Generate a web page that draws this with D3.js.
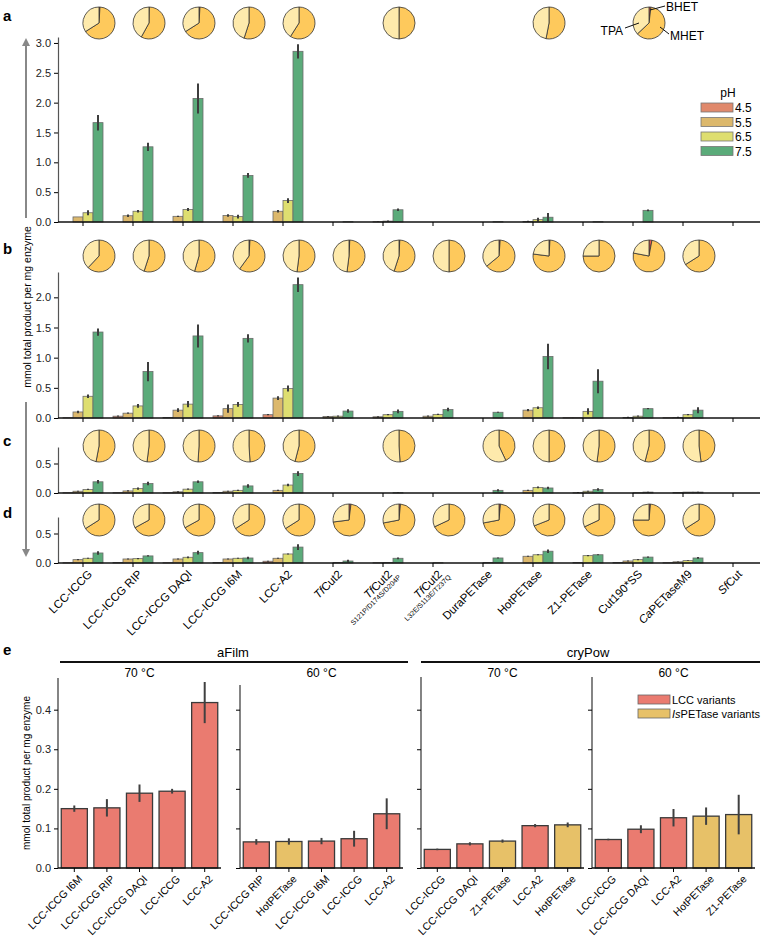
<!DOCTYPE html>
<html>
<head>
<meta charset="utf-8">
<script src="https://cdn.jsdelivr.net/npm/d3@7"></script>
<style>
  body { margin: 0; background: #fff; }
  svg { font-family: "Liberation Sans", Arial, sans-serif; }
</style>
</head>
<body>
<svg id="chart"></svg>
<script>
// categories (panels a-d)
const cats = ["LCC-ICCG","LCC-ICCG RIP","LCC-ICCG DAQI","LCC-ICCG I6M","LCC-A2","TfCut2",
  "TfCut2 S121P/D174S/D204P","TfCut2 L32E/S113E/T237Q","DuraPETase","HotPETase",
  "Z1-PETase","Cut190*SS","CaPETaseM9","SfCut"];
const catItalic = ["","","","","","Tf","Tf","Tf","","","","","Ca","Sf"];
const catRest = ["LCC-ICCG","LCC-ICCG RIP","LCC-ICCG DAQI","LCC-ICCG I6M","LCC-A2","Cut2",
  "Cut2","Cut2","DuraPETase","HotPETase","Z1-PETase","Cut190*SS","PETaseM9","Cut"];
const catSub = ["","","","","","","S121P/D174S/D204P","L32E/S113E/T237Q","","","","","",""];
const pH = ["4.5","5.5","6.5","7.5"];

// panel a  (rows = pH 4.5, 5.5, 6.5, 7.5)
const aMean = [
  [0,0,0,0,0,0,0,0,0,0,0,0,0,0],
  [0.085,0.105,0.095,0.11,0.18,0,0.005,0,0,0.01,0,0,0,0],
  [0.155,0.18,0.21,0.09,0.36,0,0.015,0,0,0.04,0,0,0,0],
  [1.665,1.26,2.07,0.78,2.86,0.005,0.205,0,0.005,0.08,0.005,0.195,0,0]];
const aErr = [
  [0,0,0,0,0,0,0,0,0,0,0,0,0,0],
  [0,0.02,0.01,0.02,0.02,0,0.005,0,0,0.01,0,0,0,0],
  [0.04,0.02,0.025,0.03,0.04,0,0.01,0,0,0.03,0,0,0,0],
  [0.13,0.07,0.25,0.04,0.12,0,0.02,0,0,0.07,0,0.015,0,0]];
// panel b
const bMean = [
  [0.005,0.03,0.01,0.035,0.055,0,0,0,0,0,0.005,0,0.005,0],
  [0.1,0.08,0.13,0.155,0.33,0.025,0.02,0.03,0,0.13,0.005,0.01,0.01,0],
  [0.36,0.2,0.23,0.225,0.49,0.03,0.055,0.06,0,0.17,0.11,0.03,0.055,0],
  [1.425,0.77,1.36,1.32,2.21,0.115,0.11,0.14,0.095,1.02,0.61,0.155,0.13,0]];
const bErr = [
  [0,0.01,0,0.01,0.01,0,0,0,0,0,0,0,0,0],
  [0.02,0.01,0.03,0.07,0.03,0.01,0.01,0.01,0,0.02,0,0.01,0.01,0],
  [0.03,0.03,0.05,0.04,0.05,0.01,0.01,0.01,0,0.02,0.05,0.01,0.01,0],
  [0.06,0.16,0.19,0.07,0.12,0.03,0.03,0.03,0.01,0.21,0.2,0.01,0.05,0]];
// panel c
const cMean = [
  [0.005,0.005,0.005,0.01,0,0,0,0,0,0,0,0,0,0],
  [0.03,0.035,0.02,0.03,0.045,0,0,0,0,0.045,0.005,0,0.01,0],
  [0.06,0.075,0.065,0.045,0.135,0,0,0,0,0.095,0.03,0.005,0.015,0],
  [0.19,0.16,0.19,0.12,0.33,0,0.005,0,0.045,0.085,0.06,0.015,0.015,0]];
const cErr = [
  [0,0,0,0,0,0,0,0,0,0,0,0,0,0],
  [0.01,0.01,0.01,0.01,0.01,0,0,0,0,0.01,0.01,0,0,0],
  [0.01,0.02,0.01,0.01,0.02,0,0,0,0,0.015,0.01,0,0,0],
  [0.03,0.03,0.02,0.03,0.04,0,0.005,0,0.02,0.02,0.02,0.005,0.005,0]];
// panel d
const dMean = [
  [0.005,0.01,0.005,0.01,0.03,0,0,0,0,0,0,0.01,0.005,0],
  [0.057,0.068,0.068,0.068,0.08,0,0.005,0,0,0.114,0.01,0.034,0.02,0],
  [0.08,0.074,0.097,0.08,0.153,0.01,0.01,0.005,0.01,0.14,0.125,0.057,0.04,0],
  [0.17,0.12,0.176,0.085,0.27,0.034,0.08,0,0.085,0.2,0.14,0.1,0.085,0]];
const dErr = [
  [0,0,0,0,0.01,0,0,0,0,0,0,0,0,0],
  [0.01,0.01,0.01,0.01,0.01,0,0,0,0,0.01,0,0.01,0.005,0],
  [0.01,0.01,0.015,0.01,0.01,0,0,0,0,0.01,0.01,0.01,0.005,0],
  [0.03,0.01,0.03,0.02,0.05,0.02,0.015,0,0.01,0.03,0.01,0.01,0.015,0]];

// pie fractions (BHET, MHET; TPA is the rest), null = no pie
const aBhet = [0.01,0.003,0.01,0,0,null,0.002,null,null,0,null,0.02,null,null];
const aMhet = [0.65,0.577,0.65,0.55,0.59,null,0.498,null,null,0.53,null,0.61,null,null];
const bBhet = [0,0,0,0.01,0,0.008,0.008,0,0.012,0.01,0,0.03,0,null];
const bMhet = [0.62,0.55,0.545,0.59,0.52,0.512,0.542,0.5,0.628,0.76,0.75,0.75,0.66,null];
const cBhet = [0,0,0,0,0,null,0,null,0,0,0,0,0,null];
const cMhet = [0.53,0.52,0.51,0.49,0.54,null,0.49,null,0.43,0.5,0.52,0.54,0.48,null];
const dBhet = [0,0,0,0,0,0.02,0.015,0,0.015,0,0,0.015,0,null];
const dMhet = [0.66,0.67,0.67,0.66,0.66,0.71,0.705,0.68,0.705,0.69,0.68,0.735,0.66,null];

// panel e
const eHeads = ["aFilm","cryPow"];
const eTemps = ["70 °C","60 °C","70 °C","60 °C"];
const eNames = [
  ["LCC-ICCG I6M","LCC-ICCG RIP","LCC-ICCG DAQI","LCC-ICCG","LCC-A2"],
  ["LCC-ICCG RIP","HotPETase","LCC-ICCG I6M","LCC-ICCG","LCC-A2"],
  ["LCC-ICCG","LCC-ICCG DAQI","Z1-PETase","LCC-A2","HotPETase"],
  ["LCC-ICCG","LCC-ICCG DAQI","LCC-A2","HotPETase","Z1-PETase"]];
const eMean = [
  [0.15,0.152,0.189,0.194,0.418],
  [0.066,0.067,0.068,0.074,0.137],
  [0.047,0.061,0.068,0.107,0.109],
  [0.072,0.098,0.127,0.131,0.135]];
const eErr = [
  [0.008,0.022,0.022,0.006,0.052],
  [0.007,0.008,0.008,0.02,0.039],
  [0.002,0.004,0.004,0.004,0.006],
  [0.002,0.01,0.022,0.022,0.05]];
const isPETase = ["HotPETase","Z1-PETase"];

const W = 762, H = 940;
const phColor = d3.scaleOrdinal().domain(pH).range(["#e0896c","#dcb86c","#dede70","#5bab7a"]);
const pieColor = ["#ee5a4e","#fec95c","#feeaac"];

const svg = d3.select("#chart").attr("width", W).attr("height", H);

const x = d3.scaleBand().domain(cats).range([58, 758]).paddingInner(0.2).paddingOuter(0.1);
const xs = d3.scaleBand().domain(pH).range([0, x.bandwidth()]);

const pie = d3.pie().sort(null).value(d => d);
const arc = d3.arc().innerRadius(0).outerRadius(16);

function drawPanel(mean, err, y0, y1, ymax, ticks, bhet, mhet, pieY, letter, letterY) {
  const y = d3.scaleLinear().domain([0, ymax]).range([y0, y1]);
  const g = svg.append("g");

  g.append("g")
    .attr("transform", "translate(58,0)")
    .call(d3.axisLeft(y).tickValues(ticks).tickFormat(d3.format(".1f")).tickSize(4).tickSizeOuter(0))
    .call(a => a.select(".domain").attr("stroke", "#555").attr("stroke-width", 1.2))
    .call(a => a.selectAll("text").style("font-size", "11px").attr("fill", "#222"));

  mean.forEach((row, p) => {
    row.forEach((v, i) => {
      if (v <= 0) return;
      const bx = x(cats[i]) + xs(pH[p]);
      g.append("rect")
        .attr("x", bx).attr("y", y(v))
        .attr("width", xs.bandwidth()).attr("height", y(0) - y(v))
        .attr("fill", phColor(pH[p]))
        .attr("stroke", "#6b6b6b").attr("stroke-width", 0.8);
      const e = err[p][i];
      if (e > 0) {
        g.append("line")
          .attr("x1", bx + xs.bandwidth() / 2).attr("x2", bx + xs.bandwidth() / 2)
          .attr("y1", y(v + e)).attr("y2", y(Math.max(0, v - e)))
          .attr("stroke", "#3d3d3d").attr("stroke-width", 2);
      }
    });
  });

  g.append("g")
    .attr("transform", `translate(0,${y0})`)
    .call(d3.axisBottom(x).tickSize(4).tickSizeOuter(0).tickFormat(""))
    .call(a => a.select(".domain").attr("stroke", "#111").attr("stroke-width", 1.6)
      .attr("d", `M58,0H760`));

  // pies
  cats.forEach((c, i) => {
    if (mhet[i] == null) return;
    const cx = x(c) + x.bandwidth() / 2 + 16;
    const vals = [bhet[i], mhet[i], 1 - bhet[i] - mhet[i]];
    const pg = svg.append("g").attr("transform", `translate(${cx},${pieY})`);
    pg.selectAll("path").data(pie(vals)).join("path")
      .attr("d", arc)
      .attr("fill", (d, k) => pieColor[k])
      .attr("stroke", "#333").attr("stroke-width", 0.8);
  });

  svg.append("text").attr("x", 3).attr("y", letterY)
    .attr("font-weight", "bold").style("font-size", "15px").text(letter);
  return y;
}

drawPanel(aMean, aErr, 222, 37, 3.1, [0,0.5,1,1.5,2,2.5,3], aBhet, aMhet, 23, "a", 21);
drawPanel(bMean, bErr, 418, 272, 2.42, [0,0.5,1,1.5,2], bBhet, bMhet, 256, "b", 254);
drawPanel(cMean, cErr, 493, 447, 0.78, [0,0.5], cBhet, cMhet, 446, "c", 446);
drawPanel(dMean, dErr, 563, 517, 0.78, [0,0.5], dBhet, dMhet, 520, "d", 518);

// annotations on Cut190*SS pie
const ap = x("Cut190*SS") + x.bandwidth() / 2 + 16;
const ann = [
  {t: "BHET", x1: ap + 1, y1: 10, x2: ap + 16, y2: 6, tx: ap + 17, ty: 11, anchor: "start"},
  {t: "TPA", x1: ap - 10, y1: 23, x2: ap - 24, y2: 28, tx: ap - 26, ty: 35, anchor: "end"},
  {t: "MHET", x1: ap + 11, y1: 27, x2: ap + 20, y2: 34, tx: ap + 21, ty: 40, anchor: "start"}];
ann.forEach(a => {
  svg.append("line").attr("x1", a.x1).attr("y1", a.y1).attr("x2", a.x2).attr("y2", a.y2)
    .attr("stroke", "#111").attr("stroke-width", 1);
  svg.append("text").attr("x", a.tx).attr("y", a.ty).attr("text-anchor", a.anchor)
    .style("font-size", "12px").text(a.t);
});

// pH legend
const lg = svg.append("g").attr("transform", "translate(701,0)");
lg.append("text").attr("x", 27).attr("y", 97).attr("text-anchor", "middle")
  .style("font-size", "12px").text("pH");
pH.forEach((p, i) => {
  lg.append("rect").attr("x", 0).attr("y", 103 + i * 14.5).attr("width", 32).attr("height", 9)
    .attr("fill", phColor(p)).attr("stroke", "#777").attr("stroke-width", 0.8);
  lg.append("text").attr("x", 34).attr("y", 112 + i * 14.5)
    .style("font-size", "12px").text(p);
});

// x labels under panel d
cats.forEach((c, i) => {
  const cx = x(c) + x.bandwidth() / 2;
  const lg2 = svg.append("g").attr("transform", `translate(${cx + 7},${572}) rotate(-45)`);
  const t = lg2.append("text").attr("text-anchor", "end").attr("dy", "0.35em").style("font-size", "11.5px");
  if (catItalic[i]) t.append("tspan").attr("font-style", "italic").text(catItalic[i]);
  t.append("tspan").text(catRest[i]);
  if (catSub[i]) {
    lg2.append("text").attr("text-anchor", "end").attr("x", 4).attr("y", 12)
      .style("font-size", "7px").text(catSub[i]);
  }
});

// side arrows and y label for a-d
svg.append("defs").append("marker").attr("id", "ah").attr("viewBox", "0 0 10 10")
  .attr("refX", 5).attr("refY", 5).attr("markerWidth", 4).attr("markerHeight", 4).attr("orient", "auto")
  .append("path").attr("d", "M0,0L10,5L0,10Z").attr("fill", "#888");
svg.append("line").attr("x1", 26).attr("x2", 26).attr("y1", 218).attr("y2", 42)
  .attr("stroke", "#888").attr("stroke-width", 2).attr("marker-end", "url(#ah)");
svg.append("line").attr("x1", 26).attr("x2", 26).attr("y1", 402).attr("y2", 553)
  .attr("stroke", "#888").attr("stroke-width", 2).attr("marker-end", "url(#ah)");
svg.append("text").attr("transform", "translate(27,307) rotate(-90)")
  .attr("text-anchor", "middle").attr("dy", "0.35em").style("font-size", "10.5px")
  .text("mmol total product per mg enzyme");

// panel e
svg.append("text").attr("x", 3).attr("y", 655).attr("font-weight", "bold").style("font-size", "15px").text("e");
const ey = d3.scaleLinear().domain([0, 0.475]).range([868, 680]);
const eLeft = [58, 240, 421, 592];
const eTop = [678, 685, 677, 677];
const eWidth = 163;

eNames.forEach((names, s) => {
  const ex = d3.scaleBand().domain(names).range([eLeft[s], eLeft[s] + eWidth]).paddingInner(0.2).paddingOuter(0.1);
  const g = svg.append("g");
  g.append("g").attr("transform", `translate(${eLeft[s]},0)`)
    .call(d3.axisLeft(ey).tickValues([0,0.1,0.2,0.3,0.4]).tickSize(4).tickSizeOuter(0)
      .tickFormat(s === 0 ? d3.format(".1f") : ""))
    .call(a => a.select(".domain").attr("stroke", "#333").attr("stroke-width", 1.2).attr("d", `M0,${eTop[s]}V868`))
    .call(a => a.selectAll("text").style("font-size", "11px").attr("fill", "#222"));
  names.forEach((n, i) => {
    const v = eMean[s][i], e = eErr[s][i];
    g.append("rect").attr("x", ex(n)).attr("y", ey(v))
      .attr("width", ex.bandwidth()).attr("height", ey(0) - ey(v))
      .attr("fill", isPETase.includes(n) ? "#e7c168" : "#ea7b70")
      .attr("stroke", "#3a3a3a").attr("stroke-width", 1.3);
    g.append("line").attr("x1", ex(n) + ex.bandwidth() / 2).attr("x2", ex(n) + ex.bandwidth() / 2)
      .attr("y1", ey(v + e)).attr("y2", ey(v - e))
      .attr("stroke", "#404040").attr("stroke-width", 2);
  });
  g.append("g").attr("transform", "translate(0,868)")
    .call(d3.axisBottom(ex).tickSize(4).tickSizeOuter(0).tickFormat(""))
    .call(a => a.select(".domain").attr("stroke", "#111").attr("stroke-width", 1.4)
      .attr("d", `M${eLeft[s]},0H${eLeft[s] + eWidth}`));
  names.forEach(n => {
    const cx = ex(n) + ex.bandwidth() / 2;
    svg.append("text").attr("transform", `translate(${cx + 6},${877}) rotate(-45)`)
      .attr("text-anchor", "end").attr("dy", "0.35em").style("font-size", "10.5px").text(n);
  });
  svg.append("text").attr("x", eLeft[s] + eWidth / 2).attr("y", 677).attr("text-anchor", "middle")
    .style("font-size", "12px").text(eTemps[s]);
});

// group headers
[[60, 408], [421, 760]].forEach((r, k) => {
  svg.append("line").attr("x1", r[0]).attr("x2", r[1]).attr("y1", 662).attr("y2", 662)
    .attr("stroke", "#111").attr("stroke-width", 2);
  svg.append("text").attr("x", k === 0 ? 233 : 588).attr("y", 657).attr("text-anchor", "middle")
    .style("font-size", "13px").text(eHeads[k]);
});

svg.append("text").attr("transform", "translate(26,773) rotate(-90)")
  .attr("text-anchor", "middle").attr("dy", "0.35em").style("font-size", "10px")
  .text("mmol total product per mg enzyme");

// e legend
const el = [["LCC variants", "#ea7b70", ""], ["PETase variants", "#e7c168", "Is"]];
el.forEach((d, i) => {
  svg.append("rect").attr("x", 638).attr("y", 695 + i * 14).attr("width", 32).attr("height", 9)
    .attr("fill", d[1]).attr("stroke", "#666").attr("stroke-width", 0.8);
  const t = svg.append("text").attr("x", 672).attr("y", 703.5 + i * 14).style("font-size", "11px");
  if (d[2]) t.append("tspan").attr("font-style", "italic").text(d[2]);
  t.append("tspan").text(d[0]);
});
</script>
</body>
</html>
